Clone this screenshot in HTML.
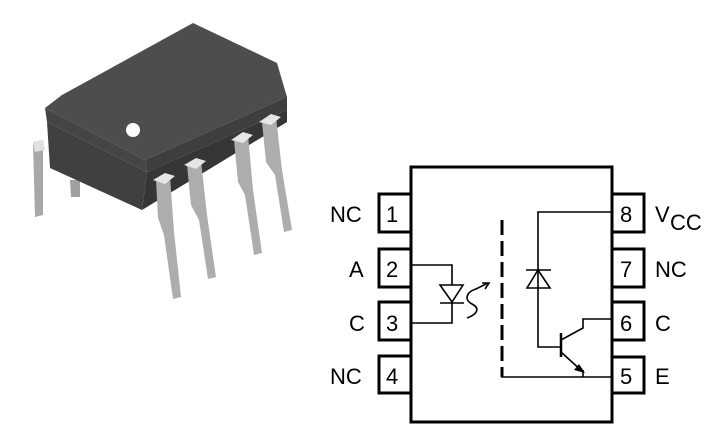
<!DOCTYPE html>
<html><head><meta charset="utf-8"><style>
html,body{margin:0;padding:0;background:#fff;}
svg{display:block;}
text{font-family:"Liberation Sans",Arial,sans-serif;fill:#000;}
</style></head><body>
<svg width="720" height="440" viewBox="0 0 720 440" xmlns="http://www.w3.org/2000/svg">
<g>
  <polygon points="33,142 43,140 43,215 35,217" fill="#a8a8a8"/>
  <polygon points="33,142 43,140 45,150 35,152" fill="#e0e0e0"/>
  <polygon points="70,180 80,180 80,197 71,197" fill="#a0a0a0"/>
  <polygon points="193,23 277,63 287,97 145,160 45,108 62,95" fill="#4d4d4d"/>
  <polygon points="45,108 145,160 147,172 47,122" fill="#454545"/>
  <polygon points="145,160 287,97 287,110 147,172" fill="#3e3e3e"/>
  <polygon points="47,122 147,172 142,210 50,168" fill="#404040"/>
  <polygon points="147,172 287,110 287,122 142,210" fill="#363636"/>
  <circle cx="133" cy="130" r="7" fill="#fff"/>
  <g fill="#adadad">
    <polygon points="156,180 170,176 174,232 181,297 173,299 164,235 158,218"/>
    <polygon points="187,165 201,161 207,215 216,277 208,279 199,220 191,205"/>
    <polygon points="234,140 248,135 253,190 262,253 254,255 245,195 238,182"/>
    <polygon points="262,122 276,117 282,170 292,230 284,232 275,175 266,162"/>
  </g>
  <g fill="#e6e6e6">
    <polygon points="153,180 165,173 175,176 165,184"/>
    <polygon points="184,165 196,158 206,161 196,169"/>
    <polygon points="231,140 243,132 253,135 243,143"/>
    <polygon points="259,122 271,114 281,117 271,125"/>
  </g>
</g>
<g fill="none" stroke="#000">
  <rect x="411" y="167" width="201" height="255" stroke-width="3"/>
  <g stroke-width="3" fill="#fff">
    <rect x="379" y="194" width="32" height="38"/>
    <rect x="379" y="249" width="32" height="38"/>
    <rect x="379" y="302" width="32" height="38"/>
    <rect x="379" y="356" width="32" height="37"/>
    <rect x="612" y="194" width="32" height="38"/>
    <rect x="612" y="249" width="32" height="38"/>
    <rect x="612" y="302" width="32" height="38"/>
    <rect x="612" y="357" width="32" height="36"/>
  </g>
  <g stroke-width="1.6">
    <polyline points="412,265 452,265 452,285"/>
    <polyline points="412,323 452,323 452,303"/>
    <polygon points="440,285 463,285 452,302"/>
    <line x1="440" y1="303" x2="464" y2="303"/>
    <path d="M467,318 C478,314 480,308 472,304 C464,300 466,292 476,289 L488,283"/>
    <polyline points="482,283 489,283 485,289"/>
    <polyline points="612,212 538,212 538,347 561,347"/>
    <polygon points="527,288 550,288 538,270"/>
    <line x1="526" y1="270" x2="551" y2="270"/>
    <line x1="561" y1="333" x2="561" y2="357" stroke-width="2.5"/>
    <polyline points="561,340 583,328 583,319 612,319"/>
    <line x1="561" y1="352" x2="583" y2="372"/>
    <polyline points="583,370 583,377"/>
    <polyline points="502,375 502,377 612,377"/>
  </g>
  <polygon points="585,373 574,370 579,364" fill="#000" stroke="none"/>
  <line x1="502" y1="220" x2="502" y2="377" stroke-width="3" stroke-dasharray="15,6"/>
</g>
<g font-size="22">
  <text x="386" y="222">1</text>
  <text x="386" y="277">2</text>
  <text x="386" y="331">3</text>
  <text x="386" y="384">4</text>
  <text x="620" y="222">8</text>
  <text x="620" y="277">7</text>
  <text x="620" y="331">6</text>
  <text x="620" y="384">5</text>
  <text x="330" y="222">NC</text>
  <text x="349" y="277">A</text>
  <text x="349" y="331">C</text>
  <text x="330" y="384">NC</text>
  <text x="655" y="222">V</text>
  <text x="670" y="230">CC</text>
  <text x="655" y="277">NC</text>
  <text x="655" y="331">C</text>
  <text x="655" y="384">E</text>
</g>
</svg>
</body></html>
